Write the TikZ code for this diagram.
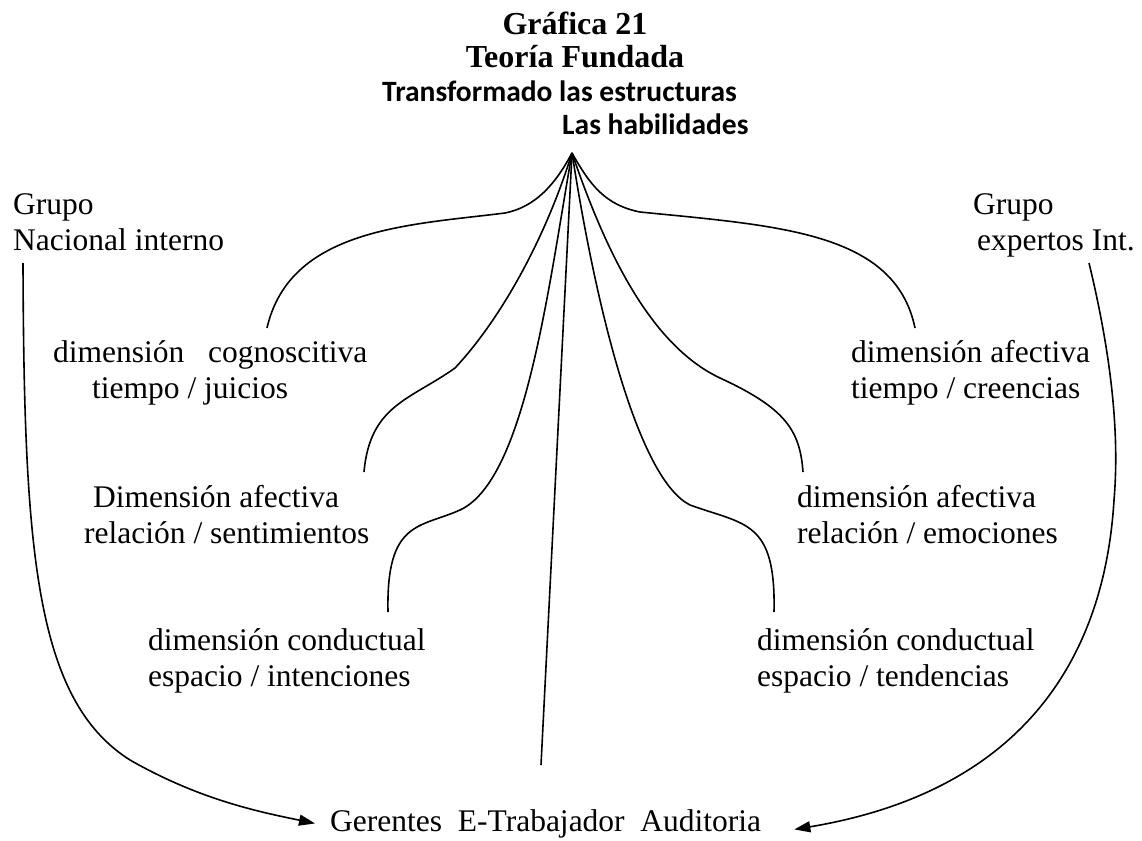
\documentclass[tikz,border=0pt]{standalone}
\usepackage{fontspec}
\setmainfont{Liberation Serif}
\newfontfamily\calibri{Carlito}
\usetikzlibrary{arrows.meta}

\begin{document}
\begin{tikzpicture}[x=1pt, y=-1pt,
  lbl/.style={inner sep=0pt, anchor=base west, align=left, font=\fontsize{31.5}{36}\selectfont},
  branch/.style={line width=1.6pt},
  link/.style={branch, -{Triangle[length=16pt,width=11pt]}}]
  \useasboundingbox (0,0) rectangle (1142,840);
  % titles
  \node[inner sep=0pt, anchor=base, align=center, font=\fontsize{32}{33}\selectfont\bfseries] (titulo) at (575,68) {Gráfica 21\\Teoría Fundada};
  \node[lbl, font=\fontsize{29.5}{33}\selectfont\calibri\bfseries] (habil) at (382,135) {Transformado las estructuras\\\hspace*{180pt}Las habilidades};
  % groups
  \node[lbl] (grpnac) at (13,250) {Grupo\\Nacional interno};
  \node[lbl] (grpexp) at (973,250) {Grupo\\\hspace*{4pt}expertos Int.};
  % dimensions
  \node[lbl] (cogn) at (53,398) {dimensión~~~cognoscitiva\\\hspace*{39pt}tiempo / juicios};
  \node[lbl] (afecl) at (84,543) {\hspace*{9pt}Dimensión afectiva\\relación / sentimientos};
  \node[lbl] (condl) at (148,686) {dimensión conductual\\espacio / intenciones};
  \node[lbl] (afecr) at (851,398) {dimensión afectiva\\tiempo / creencias};
  \node[lbl] (emoc) at (797,543) {dimensión afectiva\\relación / emociones};
  \node[lbl] (condr) at (757,686) {dimensión conductual\\espacio / tendencias};
  \node[lbl] (dest) at (330,831) {Gerentes~~E-Trabajador~~Auditoria};
  % branch ends
  \coordinate (apex) at (572,153);
  \coordinate (e1) at (267,328);
  \coordinate (e2) at (364,472);
  \coordinate (e3) at (388,612);
  \coordinate (e4) at (915,328);
  \coordinate (e5) at (803,472);
  \coordinate (e6) at (774,612);
  \coordinate (e7) at (541,765);
  \coordinate (nac) at (23,263);
  \coordinate (exp) at (1089,263);
  % fan of branches
  \draw[branch] (apex) .. controls (555,185) and (535,207) .. (505,213) .. controls (410,225) and (290,228) .. (e1);
  \draw[branch] (apex) .. controls (545,240) and (500,320) .. (455,368) .. controls (410,400) and (370,405) .. (e2);
  \draw[branch] (apex) .. controls (548,290) and (525,480) .. (460,510) .. controls (420,528) and (386,520) .. (e3);
  \draw[branch] (apex) -- (e7);
  \draw[branch] (apex) .. controls (590,185) and (605,205) .. (640,212) .. controls (780,226) and (895,232) .. (e4);
  \draw[branch] (apex) .. controls (605,250) and (650,345) .. (720,378) .. controls (785,408) and (800,430) .. (e5);
  \draw[branch] (apex) .. controls (598,320) and (640,480) .. (690,505) .. controls (745,525) and (776,520) .. (e6);
  % groups to destination
  \draw[link] (nac) .. controls (24,550) and (35,700) .. (130,760) .. controls (200,800) and (260,812) .. ([xshift=-15pt]dest.west);
  \draw[link] (exp) .. controls (1110,350) and (1120,430) .. (1114,500) .. controls (1105,650) and (1030,790) .. ([xshift=33pt,yshift=-6pt]dest.east);
\end{tikzpicture}
\end{document}
